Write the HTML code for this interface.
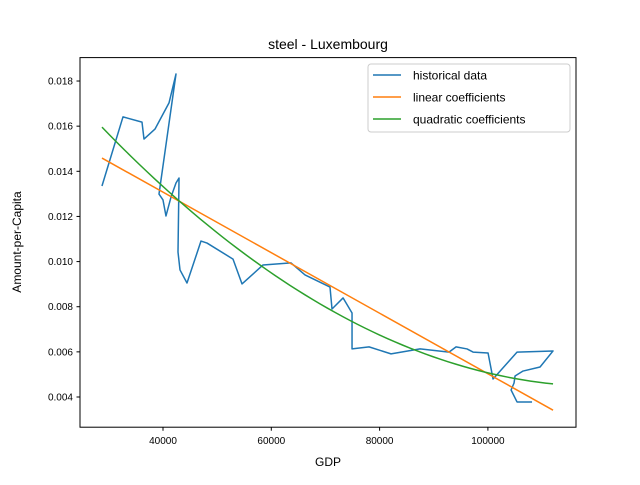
<!DOCTYPE html>
<html><head><meta charset="utf-8"><style>
body{margin:0;background:#fff}
svg{font-family:"Liberation Sans","DejaVu Sans",sans-serif}
</style></head><body>
<svg id="chart" width="640" height="480" viewBox="0 0 640 480">
<rect width="640" height="480" fill="#fff"/>
<text x="328" y="49" font-size="14" text-anchor="middle">steel - Luxembourg</text>
<g id="plot"></g>
<rect x="80" y="57.6" width="496" height="369.6" fill="none" stroke="#000" stroke-width="1"/>
<text x="328" y="466" font-size="12" text-anchor="middle">GDP</text>
<text transform="translate(21,242) rotate(-90)" font-size="12" text-anchor="middle">Amount-per-Capita</text>
<g>
<rect x="368" y="64" width="202" height="68" rx="3" fill="#fff" fill-opacity="0.8" stroke="#ccc"/>
<line x1="373" y1="75" x2="401" y2="75" stroke="#1f77b4" stroke-width="1.5"/>
<text x="413" y="79.5" font-size="12">historical data</text>
<line x1="373" y1="97" x2="401" y2="97" stroke="#ff7f0e" stroke-width="1.5"/>
<text x="413" y="101.5" font-size="12">linear coefficients</text>
<line x1="373" y1="119" x2="401" y2="119" stroke="#2ca02c" stroke-width="1.5"/>
<text x="413" y="123.5" font-size="12">quadratic coefficients</text>
</g>
</svg>
<script>
const gdp=[28730,32610,36120,36490,38520,41110,42400,39260,40000,40550,41480,42400,42960,42770,43140,44430,47020,48130,52930,54590,58470,63640,66230,70840,71210,73250,74910,74910,78050,82110,87470,92820,94120,96150,97260,100030,100950,105380,112030,109630,106490,105010,104830,104280,105380,108150];
const amount=[.01335,.01641,.01618,.01543,.01587,.01703,.01831,.01299,.01273,.01202,.01286,.01348,.01370,.01042,.00963,.00905,.01091,.01082,.01011,.00901,.00985,.00994,.00941,.00887,.00790,.00839,.00772,.00613,.00622,.00591,.00613,.00599,.00622,.00613,.00599,.00595,.00480,.00599,.00604,.00533,.00515,.00493,.00462,.00431,.00378,.00378];
const linearCoef=[0.01844,-1.341e-7];
const quadCoef=[0.02421,-0.003259,0.0001345]; // in units of x/10000
const xTicks=[40000,60000,80000,100000];
const yTicks=[0.004,0.006,0.008,0.010,0.012,0.014,0.016,0.018];
const X=v=>163+(v-40000)/20000*108.3;
const Y=v=>397-(v-0.004)/0.001*22.57;
const NS="http://www.w3.org/2000/svg";
const svg=document.getElementById('chart');
const plot=document.getElementById('plot');
function mk(t,a,p){const e=document.createElementNS(NS,t);for(const k in a)e.setAttribute(k,a[k]);(p||svg).appendChild(e);return e;}
xTicks.forEach(t=>{
  const l=mk('line',{x1:X(t),x2:X(t),y1:427.2,y2:430.7,stroke:'#000'});
  
  
  const tx=mk('text',{x:X(t),y:444,'font-size':10,'text-anchor':'middle'});
  tx.textContent=t;
  
  
});
yTicks.forEach(t=>{
  const l=mk('line',{x1:76.5,x2:80,y1:Y(t),y2:Y(t),stroke:'#000'});
  
  
  const tx=mk('text',{x:73,y:Y(t)+3.5,'font-size':10,'text-anchor':'end'});
  tx.textContent=t.toFixed(3);
  
  
});
const xmin=Math.min(...gdp),xmax=Math.max(...gdp);
const hist=mk('polyline',{points:gdp.map((g,i)=>X(g)+','+Y(amount[i])).join(' '),fill:'none',stroke:'#1f77b4','stroke-width':1.5,'stroke-linejoin':'round'},plot);


const lin=mk('polyline',{points:[xmin,xmax].map(g=>X(g)+','+Y(linearCoef[0]+linearCoef[1]*g)).join(' '),fill:'none',stroke:'#ff7f0e','stroke-width':1.5},plot);


const qp=[];
for(let i=0;i<=60;i++){const g=xmin+(xmax-xmin)*i/60,u=g/10000;qp.push(X(g)+','+Y(quadCoef[0]+quadCoef[1]*u+quadCoef[2]*u*u));}
const quad=mk('polyline',{points:qp.join(' '),fill:'none',stroke:'#2ca02c','stroke-width':1.5},plot);


</script>
</body></html>
